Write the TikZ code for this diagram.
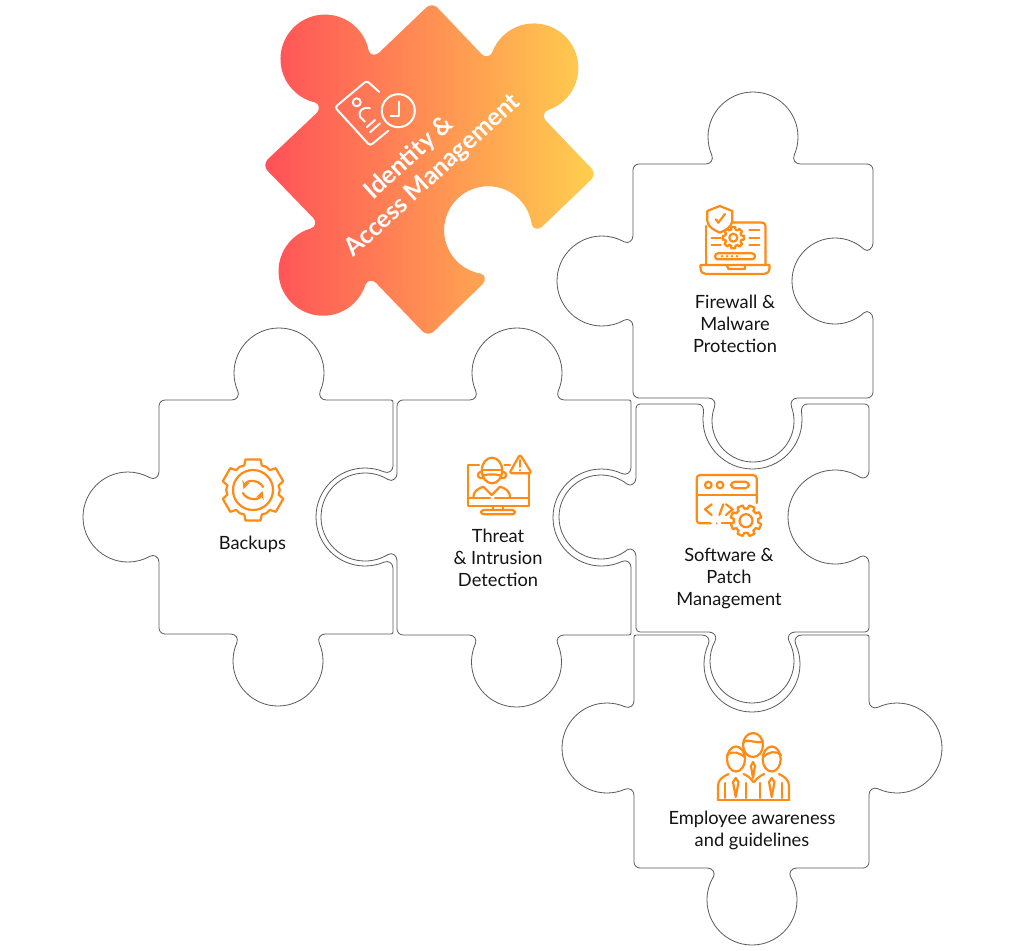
\documentclass[tikz,border=0pt]{standalone}
\usepackage{fontspec}
\setmainfont{Lato}
\definecolor{iconorange}{HTML}{FF8A14}
\definecolor{edgegray}{HTML}{5A5A5A}
\definecolor{labelblack}{HTML}{141414}
\definecolor{hotred}{HTML}{FF5058}
\definecolor{warmyellow}{HTML}{FFCF4E}
\tikzset{
	declare function={
		kna(\kr,\kd)=asin((\kd-\kr-9)/\kr);
		knx(\kr,\kd)=\kr*cos(kna(\kr,\kd));
		kns(\kr,\kd)=sin(kna(\kr,\kd));
		knc(\kr,\kd)=cos(kna(\kr,\kd));
		knh(\kr,\kd)=4/3*tan(kna(\kr,\kd)/4)*\kr;
	},
	edge/.style={draw=edgegray,line width=0.6pt},
	iconline/.style={draw=iconorange,line width=1.65pt},
	whiteline/.style={draw=white,line width=1.5pt},
	piecelabel/.style={align=center,text=labelblack,inner sep=0pt,font=\fontsize{13.7}{16.5}\selectfont},
	identitylabel/.style={rotate=42.5,text=white,inner sep=0pt,font=\fontsize{18.6}{20}\selectfont\bfseries},
}
\newcommand{\knob}[6]{{[shift={(#1,#2)},rotate=#3,yscale=#4]
	-- ({-knx(#5,#6)-6},0) .. controls ({-knx(#5,#6)-1},0) and ({-knx(#5,#6)+5*kns(#5,#6)},{-9+5*knc(#5,#6)}) .. ({-knx(#5,#6)},-9)
	.. controls ({-knx(#5,#6)-knh(#5,#6)*kns(#5,#6)},{-9-knh(#5,#6)*knc(#5,#6)}) and ({-#5},{-(#6-#5)+knh(#5,#6)}) .. ({-#5},{-(#6-#5)})
	.. controls ({-#5},{-(#6-#5)-0.5523*#5}) and ({-0.5523*#5},{-#6}) .. (0,{-#6})
	.. controls ({0.5523*#5},{-#6}) and ({#5},{-(#6-#5)-0.5523*#5}) .. ({#5},{-(#6-#5)})
	.. controls ({#5},{-(#6-#5)+knh(#5,#6)}) and ({knx(#5,#6)+knh(#5,#6)*kns(#5,#6)},{-9-knh(#5,#6)*knc(#5,#6)}) .. ({knx(#5,#6)},-9)
	.. controls ({knx(#5,#6)-5*kns(#5,#6)},{-9+5*knc(#5,#6)}) and ({knx(#5,#6)+1},0) .. ({knx(#5,#6)+6},0)}}
\newcommand{\cornr}[4]{{[shift={(#1,#2)},rotate=#3]
	-- ({-#4},0) .. controls ({-0.45*#4},0) and (0,{0.45*#4}) .. (0,{#4})}}
\newcommand{\cogwheel}[6]{
	\draw [iconline,shift={(#1,#2)}] ({#6-0.33*360/#5}:#4)
		\foreach \tooth in {1,...,#5} {
			-- ({#6+360/#5*(\tooth-1)-0.33*360/#5}:#4) -- ({#6+360/#5*(\tooth-1)-0.23*360/#5}:#3)
			-- ({#6+360/#5*(\tooth-1)+0.23*360/#5}:#3) -- ({#6+360/#5*(\tooth-1)+0.33*360/#5}:#4)
			-- ({#6+360/#5*(\tooth-1)+0.5*360/#5}:{1.03*#4})
		} -- cycle;
}
\begin{document}
\begin{tikzpicture}[line cap=round,line join=round,x=0.75pt,y=-0.75pt]
	\path [fill=white,use as bounding box] (0,0) rectangle (1024,950);
	\shade [left color=hotred,right color=warmyellow] (267,160)
		\knob{347.9}{82.8}{44}{1}{44.5}{77.5} \cornr{432}{2}{44}{8}
		\knob{513.7}{87.4}{-46}{1}{44.5}{72.5} \cornr{597}{174}{-46}{8}
		\knob{512.4}{255.4}{224}{-1}{44}{79} \cornr{428}{337}{224}{8}
		\knob{344.6}{250.4}{134}{1}{44.5}{74.5} \cornr{262}{165}{134}{8} -- cycle;
	\draw [edge] (640,164)
		\knob{753}{164}{0}{1}{45}{72} \cornr{873}{164}{0}{6}
		\knob{873}{281}{-90}{-1}{43}{81} \cornr{873}{398}{-90}{6}
		\knob{753}{398}{180}{1}{41}{64} \cornr{633}{398}{180}{6}
		\knob{633}{281}{90}{1}{45}{76} \cornr{633}{164}{90}{6} -- cycle;
	\draw [edge] (165,400)
		\knob{279}{400}{0}{1}{45}{72} \cornr{393}{400}{0}{2}
		\knob{393}{517}{-90}{-1}{49}{77} \cornr{393}{634}{-90}{2}
		\knob{278}{634}{180}{1}{45}{72} \cornr{159}{634}{180}{6}
		\knob{159}{517}{90}{1}{45}{76} \cornr{159}{400}{90}{6} -- cycle;
	\draw [edge] (403,400)
		\knob{517}{400}{0}{1}{45}{72} \cornr{631}{400}{0}{2}
		\knob{631}{517.5}{-90}{-1}{48.5}{78} \cornr{631}{635}{-90}{2}
		\knob{516.5}{635}{180}{1}{45}{72} \cornr{397}{635}{180}{6}
		\knob{397}{517}{90}{1}{44}{76} \cornr{397}{400}{90}{6} -- cycle;
	\draw [edge] (640,404)
		\knob{752.5}{404}{0}{-1}{49.5}{65} \cornr{869}{404}{0}{4}
		\knob{869}{517}{-90}{-1}{47}{81} \cornr{869}{632}{-90}{4}
		\knob{752}{632}{180}{1}{42}{71} \cornr{636}{632}{180}{4}
		\knob{636}{517}{90}{1}{42}{77} \cornr{636}{404}{90}{4} -- cycle;
	\draw [edge] (636,635)
		\knob{752}{635}{0}{-1}{48}{77} \cornr{869}{635}{0}{2}
		\knob{869}{748}{-90}{1}{45}{73} \cornr{869}{868}{-90}{6}
		\knob{752}{868}{180}{1}{45}{77} \cornr{634}{868}{180}{6}
		\knob{634}{748}{90}{1}{45}{72} \cornr{634}{635}{90}{2} -- cycle;
	\node (identityone) [identitylabel] at (409,158) {Identity \&};
	\node (identitytwo) [identitylabel] at (433,176) {Access Management};
	\node (firewall) [piecelabel] at (735,323.5) {Firewall \&\\Malware\\Protection};
	\node (backups) [piecelabel] at (252.5,544) {Backups};
	\node (threat) [piecelabel] at (498,557.5) {Threat\\\& Intrusion\\Detection};
	\node (software) [piecelabel] at (729,578.5) {Software \&\\Patch\\Management};
	\node (employee) [piecelabel] at (752,830) {Employee awareness\\and guidelines};
	\draw [whiteline,rounded corners=2pt] (379.3,92) -- (366.7,80.7) -- (335,107.3) -- (370,145.7) -- (388.3,130.7);
	\draw [whiteline] (398.3,110.7) circle (16.5);
	\draw [whiteline] (390.7,115.7) -- (399,115.7) -- (399,101.7);
	\draw [whiteline] (356.7,102.3) circle (4);
	\draw [whiteline] (370,108.3) .. controls (362,106) and (358,112) .. (360,116.7) -- (365,121.7);
	\draw [whiteline] (375,120) -- (366.7,127.3);
	\draw [whiteline] (380,123.3) -- (370,132.3);
	\draw [iconline] (732,222.5) -- (762,222.5) .. controls (764,222.5) and (765.5,224) .. (765.5,226) -- (765.5,265);
	\draw [iconline] (705.7,226) -- (705.7,265);
	\draw [iconline] (719.7,206) -- (707.3,211) -- (707.3,221) .. controls (708,227) and (714,230) .. (719.7,232.7) .. controls (726,230) and (731.5,227) .. (732.3,221) -- (732.3,211) -- cycle;
	\draw [iconline] (716,219.3) -- (718.3,222.7) -- (725,214);
	\cogwheel{733.3}{237.7}{10.8}{8.2}{8}{0}
	\draw [iconline] (733.3,237.7) circle (4);
	\foreach \ly in {230,237.7,245} {
		\draw [iconline] (749.3,\ly) -- (759.3,\ly);
	}
	\foreach \ly in {237.7,245} {
		\draw [iconline] (711.7,\ly) -- (720.7,\ly);
	}
	\draw [iconline,rounded corners=2.2pt] (715,253.3) rectangle (755,259.3);
	\foreach \dotx in {722,727,732,737} {
		\fill [iconorange] (\dotx,256.3) circle (1.4);
	}
	\draw [iconline] (700.5,265) -- (769.5,265) -- (769.5,268) .. controls (769.5,272) and (767,274) .. (764,274) -- (706,274) .. controls (703,274) and (700.5,272) .. (700.5,268) -- cycle;
	\draw [iconline] (726.7,265) -- (728.5,269) -- (745,269) -- (745,265);
	\draw [iconline] (479,465) -- (467.7,465) -- (467.7,505.7) -- (529,505.7) -- (529,473.3);
	\draw [iconline] (504.5,465) -- (510,465);
	\draw [iconline] (467.7,497.7) -- (490,497.7);
	\draw [iconline] (495,497.7) -- (529,497.7);
	\draw [iconline] (493.3,506) -- (493.3,510);
	\draw [iconline] (503.3,506) -- (503.3,510);
	\draw [iconline,rounded corners=2pt] (481,510) rectangle (515,514.3);
	\draw [iconline] (492,470.5) ellipse (10.3 and 12.8);
	\draw [iconline,rounded corners=2pt] (481.7,472) -- (478,472) -- (478,478) -- (482.5,478);
	\draw [iconline,rounded corners=2pt] (502.3,472) -- (506,472) -- (506,478) -- (501.5,478);
	\draw [iconline] (483,470) -- (501,470);
	\draw [iconline] (483,475.5) .. controls (488,474) and (496,474) .. (501,475.5);
	\draw [iconline] (473.3,497.7) .. controls (473.3,491.7) and (477,489) .. (483.3,486.7) -- (491.7,495) -- (500,486.7) .. controls (507,489) and (510,491.7) .. (510,497.7);
	\draw [iconline,rounded corners=2pt] (520,454.3) -- (509.3,473.3) -- (531.7,473.3) -- cycle;
	\draw [iconline] (520,460) -- (520,466.7);
	\fill [iconorange] (520,470.3) circle (1.2);
	\draw [iconline] (710.7,523.3) -- (700,523.3) .. controls (698,523.3) and (696.7,522) .. (696.7,520) -- (696.7,478.5) .. controls (696.7,476.5) and (698,475) .. (700,475) -- (753,475) .. controls (755,475) and (756.7,476.5) .. (756.7,478.5) -- (756.7,503);
	\draw [iconline] (696.7,495) -- (756.7,495);
	\draw [iconline] (708.3,485) circle (3.3);
	\draw [iconline] (720,485) circle (3.3);
	\draw [iconline,rounded corners=3pt] (731,481.7) rectangle (749,488.3);
	\draw [iconline] (711.7,504.3) -- (705,509.3) -- (711.7,515);
	\draw [iconline] (723.3,504.3) -- (719.3,515);
	\draw [iconline] (726,504.3) -- (732.7,509.3) -- (726,515);
	\fill [iconorange] (716.7,523.3) circle (1);
	\draw [iconline] (721.7,523.3) -- (731.7,523.3);
	\cogwheel{746}{520.7}{15.6}{12}{8}{22.5}
	\draw [iconline] (746,520.7) circle (6.5);
	\cogwheel{253}{490}{31.5}{26}{6}{90}
	\draw [iconline] (253,490) circle (20);
	\draw [iconline,-stealth] (263,487) .. controls (260,480) and (247,479) .. (243.5,489);
	\draw [iconline,-stealth] (243,493) .. controls (246,500) and (259,501) .. (262.5,491);
	\draw [iconline] (736,759) ellipse (9 and 12.5);
	\draw [iconline] (771.7,759) ellipse (9 and 12.5);
	\draw [iconline] (753,745) ellipse (10 and 12);
	\draw [iconline] (727,755) .. controls (732,750) and (740,753) .. (745,757);
	\draw [iconline] (763,757) .. controls (768,752) and (776,750) .. (781,755);
	\draw [iconline] (743.5,742) .. controls (750,738) and (756,745) .. (763,741);
	\draw [iconline] (718,800) -- (718,786) .. controls (718,780) and (722,777) .. (728.5,774);
	\draw [iconline] (743.5,774) .. controls (748,776) and (751,778) .. (753,782);
	\draw [iconline] (754,782) .. controls (757,778) and (760,776) .. (764,774);
	\draw [iconline] (779,774) .. controls (785,777) and (789,780) .. (789,786) -- (789,800);
	\draw [iconline] (718,800) -- (789,800);
	\draw [iconline] (735.7,778) -- (733,782) -- (735.7,797) -- (738.5,782) -- cycle;
	\draw [iconline] (771.7,778) -- (769,782) -- (771.7,797) -- (774.5,782) -- cycle;
	\draw [iconline] (753,762) -- (751,766) -- (753,778) -- (755,766) -- cycle;
	\foreach \armx in {725,745.7,760,781.7} {
		\draw [iconline] (\armx,783) -- (\armx,798);
	}
\end{tikzpicture}
\end{document}
